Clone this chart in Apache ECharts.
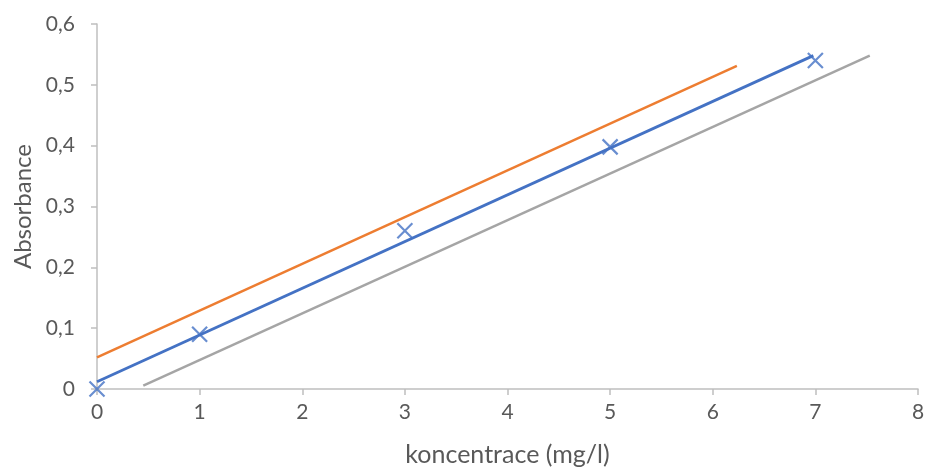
<!DOCTYPE html>
<html>
<head>
<meta charset="utf-8">
<script src="https://cdn.jsdelivr.net/npm/echarts@6/dist/echarts.min.js"></script>
<style>html,body{margin:0;padding:0;background:#fff}#c{width:925px;height:468px}</style>
</head>
<body>
<div id="c"></div>
<script>
var measX = [0, 1, 3, 5, 7];
var measY = [0, 0.09, 0.26, 0.398, 0.54];
var blueLineX = [0, 6.98];
var blueLineY = [0.012, 0.548];
var orangeLineX = [0, 6.235];
var orangeLineY = [0.052, 0.531];
var grayLineX = [0.451, 7.53];
var grayLineY = [0.0054, 0.548];
var xTitle = 'koncentrace (mg/l)';
var yTitle = 'Absorbance';

function pairs(xs, ys) { return xs.map(function (x, i) { return [x, ys[i]]; }); }

var font = 'Lato, "Open Sans", sans-serif';
var chart = echarts.init(document.getElementById('c'));
chart.setOption({
  animation: false,
  grid: { left: 97, right: 7, top: 24, bottom: 79, containLabel: false, outerBoundsMode: 'none' },
  xAxis: {
    type: 'value', min: 0, max: 8, interval: 1,
    name: xTitle, nameLocation: 'middle', nameGap: 53,
    nameTextStyle: { color: '#595959', fontSize: 25, fontFamily: font },
    axisLine: { show: true, lineStyle: { color: '#bfbfbf', width: 1.5 } },
    axisTick: { show: true, length: 6, lineStyle: { color: '#bfbfbf', width: 1.5 } },
    axisLabel: { color: '#595959', fontSize: 21, fontFamily: font, margin: 13 },
    splitLine: { show: false }
  },
  yAxis: {
    type: 'value', min: 0, max: 0.6, interval: 0.1,
    name: yTitle, nameLocation: 'middle', nameGap: 58, nameRotate: 90,
    nameTextStyle: { color: '#595959', fontSize: 24, fontFamily: font },
    axisLine: { show: true, lineStyle: { color: '#bfbfbf', width: 1.5 } },
    axisTick: { show: true, length: 6, lineStyle: { color: '#bfbfbf', width: 1.5 } },
    axisLabel: { color: '#595959', fontSize: 21, fontFamily: font, margin: 22,
      formatter: function (v) { return (Math.round(v * 10) / 10).toString().replace('.', ','); } },
    splitLine: { show: false }
  },
  series: [
    { type: 'line', data: pairs(orangeLineX, orangeLineY), showSymbol: false, symbol: 'none',
      lineStyle: { color: '#ED7D31', width: 2.5 } },
    { type: 'line', data: pairs(grayLineX, grayLineY), showSymbol: false, symbol: 'none',
      lineStyle: { color: '#A5A5A5', width: 2.5 } },
    { type: 'line', data: pairs(blueLineX, blueLineY), showSymbol: false, symbol: 'none',
      lineStyle: { color: '#4472C4', width: 2.8 } },
    { type: 'scatter', data: pairs(measX, measY),
      symbol: 'path://M0,0L10,10M10,0L0,10', symbolSize: 15,
      itemStyle: { color: 'rgba(0,0,0,0)', borderColor: '#4472C4', borderWidth: 2.2 } }
  ]
});
</script>
</body>
</html>
